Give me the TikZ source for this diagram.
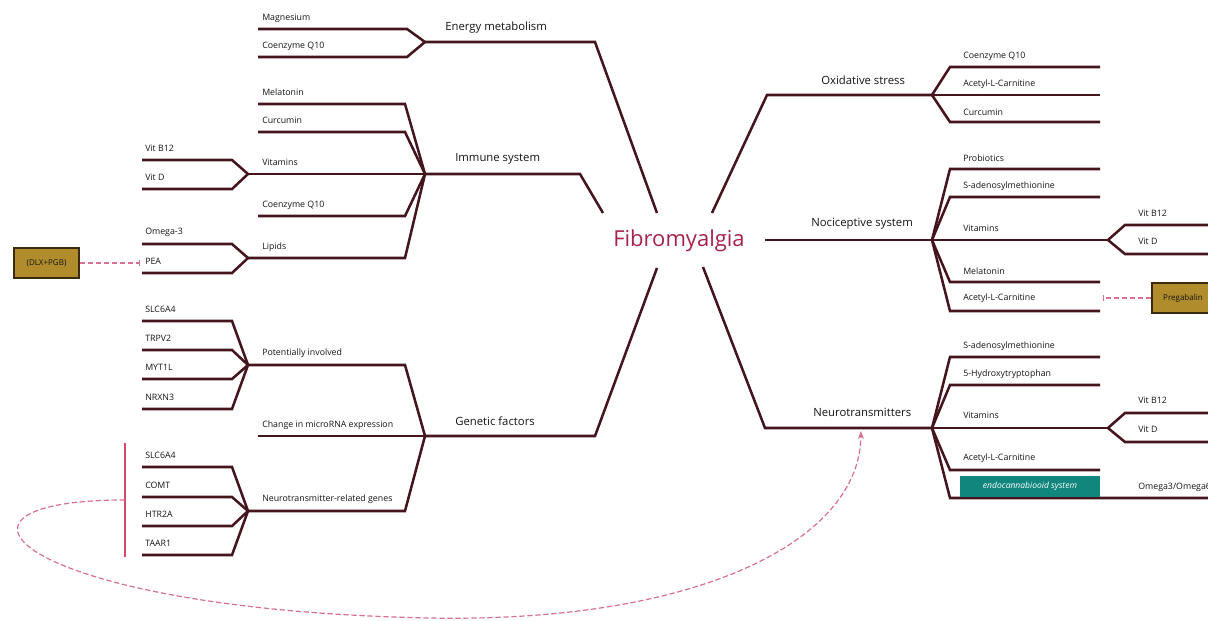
\documentclass[tikz,border=0pt]{standalone}
\usepackage{fontspec}
\setmainfont{Open Sans}
\usetikzlibrary{arrows.meta}
\definecolor{br}{HTML}{45151D}
\definecolor{txt}{HTML}{151515}
\definecolor{fibc}{HTML}{A5234B}
\definecolor{pinkd}{HTML}{D9708F}
\definecolor{pinkl}{HTML}{D04A6A}
\definecolor{gold}{HTML}{B08C2C}
\definecolor{goldb}{HTML}{3A2A10}
\definecolor{tealb}{HTML}{10867D}
\newcommand\leaf[5]{\coordinate (#1) at (#2,#4); \draw[branch] (#1) -- (#3,#4) -- (#5);}
\newcommand\rleaf[5]{\coordinate (#1) at (#3,#4); \draw[branch] (#5) -- (#2,#4) -- (#1);}
\begin{document}
\begin{tikzpicture}[x=0.75pt,y=-0.75pt,
  branch/.style={draw=br,line width=1.9pt},
  sm/.style={font=\fontsize{6.6}{8}\selectfont,anchor=west,inner sep=0pt,text=txt},
  big/.style={font=\fontsize{8.5}{10}\selectfont,anchor=west,inner sep=0pt,text=txt},
  pinkdash/.style={draw=pinkd,line width=0.9pt,dash pattern=on 4pt off 2pt},
  goldbox/.style={draw=goldb,line width=0.9pt,fill=gold,minimum height=22.5pt,inner sep=0pt,font=\fontsize{6}{7}\selectfont,text=txt},
]
\useasboundingbox (0,0) rectangle (1208,621);
\clip (0,0) rectangle (1208,621);

% ---------- centre ----------
\node[text=fibc,font=\fontsize{16.5}{18}\selectfont,inner sep=0pt] (fib) at (679,241) {Fibromyalgia};

% ---------- Energy metabolism ----------
\coordinate (E) at (425,42);
\leaf{mag}{258}{407}{29}{E}
\leaf{cqa}{258}{407}{57}{E}
\coordinate (Ebend) at (595,42); \coordinate (Eend) at (657,213);
\draw[branch] (E) -- (Ebend) -- (Eend);
\node[big] (tE) at (445,28) {Energy metabolism};
\node[sm] (tmag) at (262,18) {Magnesium};
\node[sm] (tcqa) at (262,46) {Coenzyme Q10};

% ---------- Immune system ----------
\coordinate (I) at (425,174);
\leaf{mel}{258}{405}{104}{I}
\leaf{cur}{258}{405}{132}{I}
\coordinate (V) at (248,174);
\draw[branch] (V) -- (I);
\leaf{cqb}{258}{405}{216}{I}
\coordinate (L) at (248,258);
\draw[branch] (L) -- (405,258) -- (I);
\coordinate (Ibend) at (580,174); \coordinate (Iend) at (603,213);
\draw[branch] (I) -- (Ibend) -- (Iend);
\leaf{vba}{142}{232}{160}{V}
\leaf{vda}{142}{232}{189}{V}
\leaf{om}{142}{232}{244}{L}
\leaf{pea}{142}{232}{273}{L}
\node[big] (tI) at (455,159) {Immune system};
\node[sm] (tmel) at (262,92) {Melatonin};
\node[sm] (tcur) at (262,120) {Curcumin};
\node[sm] (tvit) at (262,162) {Vitamins};
\node[sm] (tcqb) at (262,205) {Coenzyme Q10};
\node[sm] (tlip) at (262,247) {Lipids};
\node[sm] (tvba) at (145,148) {Vit B12};
\node[sm] (tvda) at (145,177) {Vit D};
\node[sm] (tom) at (145,232) {Omega-3};
\node[sm] (tpea) at (145,261) {PEA};

% DLX+PGB
\node[goldbox,minimum width=48.75pt] (dlx) at (46.5,263) {(DLX+PGB)};
\coordinate (dlxEnd) at (140,263);
\draw[pinkdash,-{Bar[width=4pt]}] (dlx.east) -- (dlxEnd);

% ---------- Genetic factors ----------
\coordinate (G) at (425,436);
\coordinate (P) at (248,365); \draw[branch] (P) -- (405,365) -- (G);
\coordinate (mi) at (258,436); \draw[branch] (mi) -- (G);
\coordinate (N) at (248,511); \draw[branch] (N) -- (405,511) -- (G);
\coordinate (Gbend) at (595,436); \coordinate (Gend) at (657,268);
\draw[branch] (G) -- (Gbend) -- (Gend);
\leaf{pa}{142}{232}{321}{P}
\leaf{pb}{142}{232}{350}{P}
\leaf{pc}{142}{232}{379}{P}
\leaf{pd}{142}{232}{409}{P}
\leaf{na}{142}{232}{467}{N}
\leaf{nb}{142}{232}{497}{N}
\leaf{nc}{142}{232}{526}{N}
\leaf{nd}{142}{232}{555}{N}
\node[big] (tG) at (455,421) {Genetic factors};
\node[sm] (tpot) at (262,353) {Potentially involved};
\node[sm] (tmir) at (262,425) {Change in microRNA expression};
\node[sm] (tntg) at (262,499) {Neurotransmitter-related genes};
\node[sm] (tpa) at (145,309) {SLC6A4};
\node[sm] (tpb) at (145,338) {TRPV2};
\node[sm] (tpc) at (145,367) {MYT1L};
\node[sm] (tpd) at (145,397) {NRXN3};
\node[sm] (tna) at (145,455) {SLC6A4};
\node[sm] (tnb) at (145,485) {COMT};
\node[sm] (tnc) at (145,514) {HTR2A};
\node[sm] (tnd) at (145,543) {TAAR1};

% pink bar and dashed curve
\coordinate (barT) at (125,443); \coordinate (barB) at (125,557);
\draw[draw=pinkl,line width=1pt] (barT) -- (barB);
\coordinate (barM) at (125,500);
\coordinate (curveLow) at (430,618);
\coordinate (ntArrow) at (861,431);
\draw[pinkdash,-{Stealth[length=6pt,width=4.5pt]}] (barM) .. controls (-90,500) and (20,610) .. (curveLow) .. controls (700,623) and (860,540) .. (ntArrow);

% ---------- Oxidative stress ----------
\coordinate (O) at (932,95);
\coordinate (Ostart) at (712,213); \coordinate (Obend) at (767,95);
\draw[branch] (Ostart) -- (Obend) -- (O);
\rleaf{oa}{950}{1100}{67}{O}
\coordinate (ob) at (1100,95); \draw[branch] (O) -- (ob);
\rleaf{oc}{950}{1100}{122}{O}
\node[big] (tO) at (821,80) {Oxidative stress};
\node[sm] (toa) at (963,56) {Coenzyme Q10};
\node[sm] (tob) at (963,84) {Acetyl-L-Carnitine};
\node[sm] (toc) at (963,112) {Curcumin};

% ---------- Nociceptive system ----------
\coordinate (C) at (932,240);
\coordinate (Cstart) at (765,240);
\draw[branch] (Cstart) -- (C);
\rleaf{ca}{950}{1100}{169}{C}
\rleaf{cb}{950}{1100}{197}{C}
\coordinate (R1) at (1108,240); \draw[branch] (C) -- (R1);
\rleaf{cd}{950}{1100}{282}{C}
\rleaf{ce}{950}{1100}{311}{C}
\rleaf{ra}{1125}{1212}{225}{R1}
\rleaf{rb}{1125}{1212}{254}{R1}
\node[big] (tC) at (811,224) {Nociceptive system};
\node[sm] (tca) at (963,158) {Probiotics};
\node[sm] (tcb) at (963,186) {S-adenosylmethionine};
\node[sm] (tcc) at (963,228) {Vitamins};
\node[sm] (tcd) at (963,271) {Melatonin};
\node[sm] (tce) at (963,298) {Acetyl-L-Carnitine};
\node[sm] (tra) at (1138,213) {Vit B12};
\node[sm] (trb) at (1138,241) {Vit D};

% Pregabalin
\node[goldbox,minimum width=46.5pt] (pg) at (1183,298) {Pregabalin};
\coordinate (pgEnd) at (1103,298);
\draw[pinkdash,-{Bar[width=4pt]}] (pg.west) -- (pgEnd);

% ---------- Neurotransmitters ----------
\coordinate (T) at (932,428);
\coordinate (Tstart) at (703,267); \coordinate (Tbend) at (765,428);
\draw[branch] (Tstart) -- (Tbend) -- (T);
\rleaf{ta}{950}{1100}{357}{T}
\rleaf{tb}{950}{1100}{385}{T}
\coordinate (R2) at (1108,428); \draw[branch] (T) -- (R2);
\rleaf{td}{950}{1100}{470}{T}
\rleaf{te}{950}{1212}{498}{T}
\rleaf{sa}{1125}{1212}{413}{R2}
\rleaf{sb}{1125}{1212}{442}{R2}
\node[big] (tT) at (813,412) {Neurotransmitters};
\node[sm] (tta) at (963,346) {S-adenosylmethionine};
\node[sm] (ttb) at (963,374) {5-Hydroxytryptophan};
\node[sm] (ttc) at (963,415) {Vitamins};
\node[sm] (ttd) at (963,458) {Acetyl-L-Carnitine};
\node[sm] (tsa) at (1138,400) {Vit B12};
\node[sm] (tsb) at (1138,429) {Vit D};
\node[sm] (tom6) at (1138,487) {Omega3/Omega6};
\node[fill=tealb,minimum width=105pt,minimum height=15.75pt,inner sep=0pt,text=white,font=\fontsize{6.4}{7}\itshape] (ecs) at (1030,486.5) {endocannabiooid system};
\end{tikzpicture}
\end{document}
